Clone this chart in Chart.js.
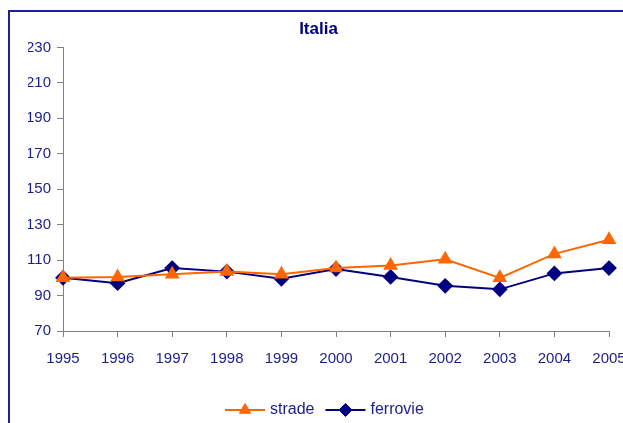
<!DOCTYPE html>
<html>
<head>
<meta charset="utf-8">
<script src="https://cdn.jsdelivr.net/npm/chart.js@4.4.1/dist/chart.umd.min.js"></script>
<style>
    html, body { margin: 0; padding: 0; overflow: hidden; background: #fff; }
    #frame {
        position: absolute; left: 8px; top: 10px; width: 700px; height: 500px;
        border-left: 2px solid #1f1f99; border-top: 2px solid #1f1f99;
    }
    #chart { position: absolute; left: 0; top: 0; }
</style>
</head>
<body>
<div id="frame"></div>
<canvas id="chart" width="660" height="423"></canvas>
<script>
const years = ['1995', '1996', '1997', '1998', '1999', '2000', '2001', '2002', '2003', '2004', '2005'];
const strade = [100, 100.5, 102, 103.5, 102, 105.5, 107, 110.5, 100, 113.5, 121.5];
const ferrovie = [100, 97, 105.5, 103.5, 99.5, 105, 100.5, 95.5, 93.5, 102.5, 105.5];

const textColor = '#1c1c8c';
const fontFamily = "'Liberation Sans Narrow', 'Arial Narrow', 'Liberation Sans', sans-serif";

// legend with line + marker, like the spreadsheet original
const lineLegend = {
    id: 'lineLegend',
    afterDraw(chart) {
        const ctx = chart.ctx;
        const y = 410;
        let x = 225;
        ctx.save();
        ctx.font = '16px ' + fontFamily;
        ctx.textBaseline = 'middle';
        chart.data.datasets.forEach(ds => {
            ctx.strokeStyle = ds.borderColor;
            ctx.fillStyle = ds.backgroundColor;
            ctx.lineWidth = 2;
            ctx.beginPath();
            ctx.moveTo(x, y);
            ctx.lineTo(x + 40, y);
            ctx.stroke();
            ctx.lineWidth = 1;
            Chart.helpers.drawPoint(ctx, {
                pointStyle: ds.pointStyle,
                radius: ds.pointRadius,
                borderWidth: 1,
            }, x + 20, y);
            ctx.fillStyle = textColor;
            ctx.fillText(ds.label, x + 45, y);
            x += 45 + ctx.measureText(ds.label).width + 11;
        });
        ctx.restore();
    }
};

new Chart(document.getElementById('chart'), {
    type: 'line',
    data: {
        labels: years,
        datasets: [{
            label: 'strade',
            data: strade,
            borderColor: '#ff6600',
            backgroundColor: '#ff6600',
            pointStyle: 'triangle',
            pointRadius: 6.5,
            borderWidth: 2,
        }, {
            label: 'ferrovie',
            data: ferrovie,
            borderColor: '#000080',
            backgroundColor: '#000080',
            pointStyle: 'rectRot',
            pointRadius: 6.5,
            borderWidth: 2,
        }],
    },
    options: {
        responsive: false,
        animation: false,
        layout: { padding: { left: 28, right: 51, top: 0, bottom: 0 } },
        plugins: {
            legend: { display: false },
            tooltip: { enabled: false },
            title: {
                display: true,
                text: 'Italia',
                color: '#000080',
                font: { family: fontFamily, size: 17, weight: 'bold', lineHeight: 1.2 },
                padding: { top: 19, bottom: 8 },
            },
        },
        scales: {
            x: {
                offset: false,
                grid: { display: true, drawOnChartArea: false, color: '#808080', tickLength: 6 },
                border: { color: '#808080', width: 1 },
                ticks: { color: textColor, font: { family: fontFamily, size: 15 }, padding: 13, maxRotation: 0, autoSkip: false },
                afterFit(scale) { scale.height = 92; },
            },
            y: {
                min: 70,
                max: 230,
                grid: { display: true, drawOnChartArea: false, color: '#808080', tickLength: 6 },
                border: { color: '#808080', width: 1 },
                ticks: { stepSize: 20, color: textColor, font: { family: fontFamily, size: 15 }, padding: 6 },
                afterFit(scale) { scale.width = 35; },
            },
        },
    },
    plugins: [lineLegend],
});
</script>
</body>
</html>
